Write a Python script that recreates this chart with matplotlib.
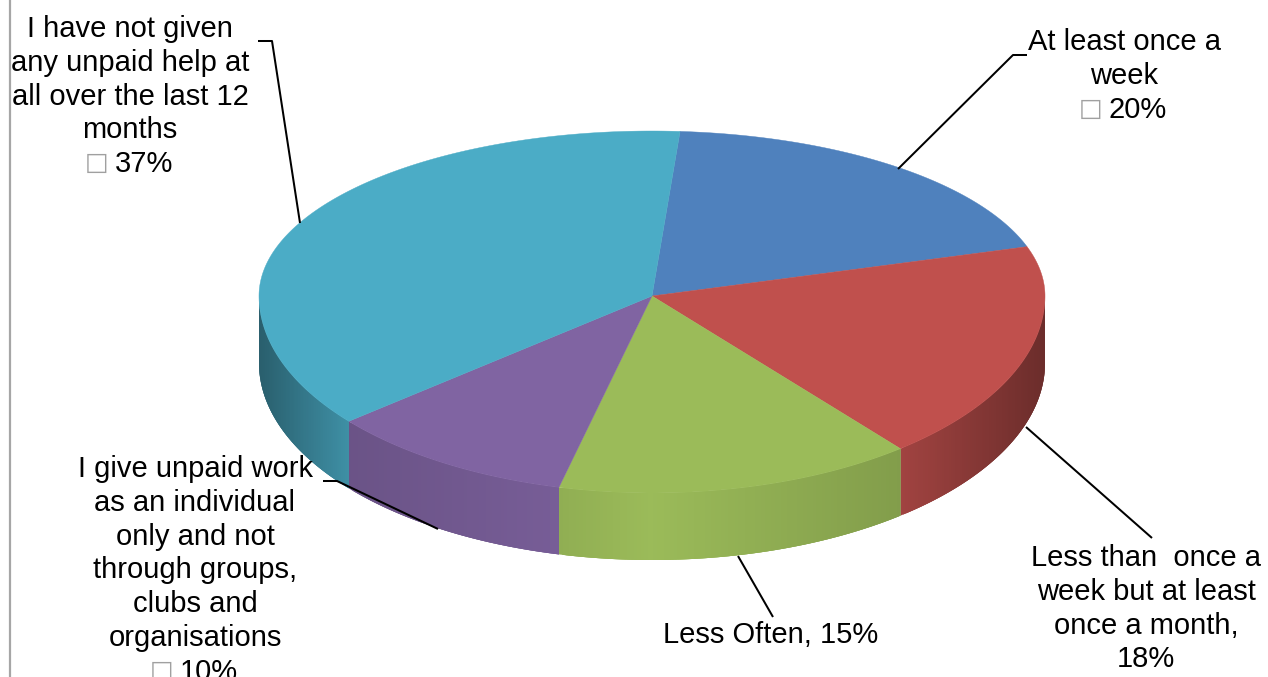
import numpy as np
import matplotlib
matplotlib.use("Agg")
import matplotlib.pyplot as plt

# ---- data ----
categories = ["At least once a week",
              "Less than once a week but at least once a month",
              "Less Often",
              "I give unpaid work as an individual only and not through groups, clubs and organisations",
              "I have not given any unpaid help at all over the last 12 months"]
values = [20, 18, 15, 10, 37]
colors = ["#4f81bd", "#c0504d", "#9bbb59", "#8064a2", "#4bacc6"]

label_lines = [
    ["At least once a", "week", "\u25a1 20%"],
    ["Less than  once a", "week but at least", "once a month,", "18%"],
    ["Less Often, 15%"],
    ["I give unpaid work", "as an individual", "only and not", "through groups,", "clubs and",
     "organisations", "\u25a1 10%"],
    ["I have not given", "any unpaid help at", "all over the last 12", "months", "\u25a1 37%"],
]
label_x = [1124, 1146, 771, 195, 130]
label_y = [42, 558, 635, 469, 29]
leaders = [
    [(1027, 55), (1013, 55), (898, 169)],
    [(1026, 427), (1152, 538)],
    [(738, 556), (773, 617)],
    [(323, 481), (337, 481), (438, 529)],
    [(258, 41), (272, 41), (300, 223)],
]

# ---- pie geometry ----
start_angle = 87
edge_nudge = [-1.1, 2.4, -1.0, 0.1, -0.7, -1.1]  # perspective shift of each slice edge, degrees
cx, cy, rx = 652, 296, 393
ry_top, ry_bottom, depth = 165, 197, 67
shade_x = [259, 347, 559, 650, 901, 1045]
shade_f = [0.55, 0.83, 0.93, 1.0, 0.84, 0.56]
line_pitch = 33.8

plt.rcParams["font.family"] = ["Liberation Sans", "DejaVu Sans"]
fig = plt.figure(figsize=(12.68, 6.77), dpi=100)
ax = fig.add_axes([0, 0, 1, 1])
ax.set_xlim(0, 1268)
ax.set_ylim(677, 0)
ax.axis("off")


def project(deg, drop=0.0):
    t = np.radians(deg)
    s = np.sin(t)
    ry = np.where(s > 0, ry_top, ry_bottom)
    return cx + rx * np.cos(t), cy - ry * s + drop


def shaded(color, x):
    rgb = np.array(matplotlib.colors.to_rgb(color))
    return tuple(rgb * np.interp(x, shade_x, shade_f))


ax.plot([10, 10], [0, 677], color="#a6a6a6", lw=1.6, zorder=1, solid_capstyle="butt")

edges = start_angle - np.cumsum([0] + values) * 3.6 + np.array(edge_nudge)
for a0, a1, col in zip(edges[:-1], edges[1:], colors):
    # visible outer wall: front half only (angles between 180 and 360 degrees)
    lo, hi = a1 % 360, a0 % 360
    if hi < lo:
        hi += 360
    lo2, hi2 = max(lo, 180), min(hi, 360)
    if hi2 > lo2:
        steps = np.linspace(lo2, hi2, int((hi2 - lo2) * 2) + 2)
        for i in range(len(steps) - 1):
            # each strip overlaps the next ones so that no seams show
            arc = np.linspace(steps[i], steps[min(i + 3, len(steps) - 1)], 6)
            px, py = project(arc)
            c = shaded(col, project((steps[i] + steps[i + 1]) / 2)[0])
            ax.fill(np.r_[px, px[::-1]], np.r_[py, py[::-1] + depth],
                    facecolor=c, edgecolor="none", zorder=2)

for a0, a1, col in zip(edges[:-1], edges[1:], colors):
    th = np.linspace(a0, a1, 240)
    px, py = project(th)
    ax.fill(np.r_[cx, px], np.r_[cy, py], facecolor=col, edgecolor=col, lw=0.3, zorder=3)

for path in leaders:
    xs, ys = zip(*path)
    ax.plot(xs, ys, color="black", lw=1.45, zorder=4, solid_capstyle="butt")

FS = 21
for lines, lx, ly in zip(label_lines, label_x, label_y):
    for i, line in enumerate(lines):
        y = ly + i * line_pitch
        if line.startswith("\u25a1"):
            ax.text(lx + 14, y, line[2:], ha="center", va="center", fontsize=FS,
                    color="black", zorder=5)
            ax.text(lx - 33, y - 1, "\u25a1", ha="center", va="center", fontsize=18,
                    color="#a0a0a0", zorder=5, family=["DejaVu Sans"])
        else:
            ax.text(lx, y, line, ha="center", va="center", fontsize=FS,
                    color="black", zorder=5)

fig.savefig("out.png", dpi=100)
